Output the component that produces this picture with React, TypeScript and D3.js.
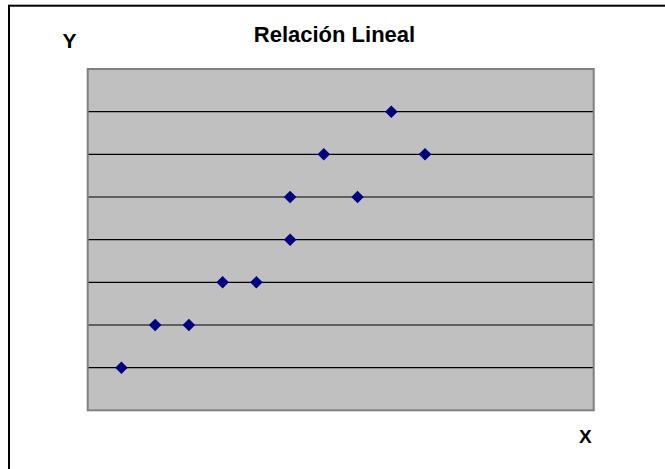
import React from "react";
import * as d3 from "d3";

const xValues = [1, 2, 3, 4, 5, 6, 6, 7, 8, 9, 10];
const yValues = [1, 2, 2, 3, 3, 4, 5, 6, 5, 7, 6];
const yGridTicks = [1, 2, 3, 4, 5, 6, 7];
const title = "Relación Lineal";
const xLabel = "X";
const yLabel = "Y";

export default function App() {
  const W = 665;
  const H = 469;
  const plot = { left: 87.7, top: 69, right: 593.7, bottom: 410.3 };
  const x = d3.scaleLinear().domain([0, 15]).range([plot.left, plot.right]);
  const y = d3.scaleLinear().domain([0, 8]).range([plot.bottom, plot.top]);
  const diamond = d3.symbol().type(d3.symbolDiamond2).size(100)();
  const font = "'Liberation Sans', Arial, sans-serif";

  return (
    <svg
      width={W}
      height={H}
      style={{ position: "absolute", left: 0, top: 0, background: "#fff" }}
    >
      <rect x={9} y={5.7} width={700} height={500} fill="#fff" stroke="#000" strokeWidth={2} />
      <rect
        x={plot.left}
        y={plot.top}
        width={plot.right - plot.left}
        height={plot.bottom - plot.top}
        fill="#C0C0C0"
      />
      {yGridTicks.map((t) => (
        <line
          key={t}
          x1={plot.left}
          x2={plot.right}
          y1={y(t)}
          y2={y(t)}
          stroke="#000"
          strokeWidth={1.2}
        />
      ))}
      <rect
        x={plot.left}
        y={plot.top}
        width={plot.right - plot.left}
        height={plot.bottom - plot.top}
        fill="none"
        stroke="#808080"
        strokeWidth={2}
      />
      {xValues.map((xv, i) => (
        <path
          key={i}
          d={diamond as string}
          transform={`translate(${x(xv)},${y(yValues[i])})`}
          fill="#000080"
        />
      ))}
      <text
        x={334.5}
        y={41.7}
        textAnchor="middle"
        fontFamily={font}
        fontWeight="bold"
        fontSize={22}
        fill="#000"
      >
        {title}
      </text>
      <text x={69.5} y={47.7} textAnchor="middle" fontFamily={font} fontWeight="bold" fontSize={21} fill="#000">
        {yLabel}
      </text>
      <text x={585.3} y={443.3} textAnchor="middle" fontFamily={font} fontWeight="bold" fontSize={19} fill="#000">
        {xLabel}
      </text>
    </svg>
  );
}
